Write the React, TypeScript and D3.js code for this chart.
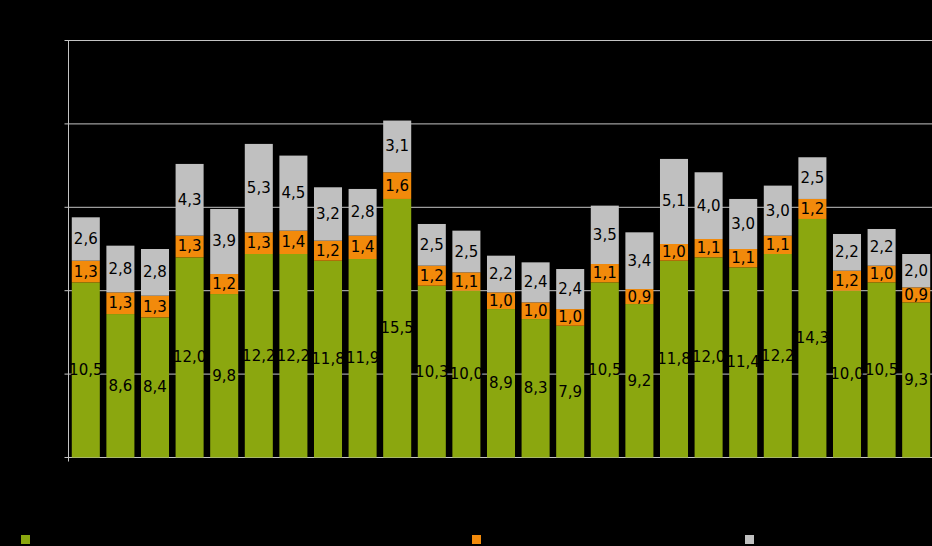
import React from "react";
import * as d3 from "d3";

const categories = ["1","2","3","4","5","6","7","8","9","10","11","12","13","14","15","16","17","18","19","20","21","22","23","24","25"];
const seriesNames = ["Serie 1", "Serie 2", "Serie 3"];
const greenValues = [10.5, 8.6, 8.4, 12.0, 9.8, 12.2, 12.2, 11.8, 11.9, 15.5, 10.3, 10.0, 8.9, 8.3, 7.9, 10.5, 9.2, 11.8, 12.0, 11.4, 12.2, 14.3, 10.0, 10.5, 9.3];
const orangeValues = [1.3, 1.3, 1.3, 1.3, 1.2, 1.3, 1.4, 1.2, 1.4, 1.6, 1.2, 1.1, 1.0, 1.0, 1.0, 1.1, 0.9, 1.0, 1.1, 1.1, 1.1, 1.2, 1.2, 1.0, 0.9];
const grayValues = [2.6, 2.8, 2.8, 4.3, 3.9, 5.3, 4.5, 3.2, 2.8, 3.1, 2.5, 2.5, 2.2, 2.4, 2.4, 3.5, 3.4, 5.1, 4.0, 3.0, 3.0, 2.5, 2.2, 2.2, 2.0];
const yTicks = [0, 5, 10, 15, 20, 25];

const colors = ["#8ba70f", "#f28a0b", "#c0c0c0"];
const W = 932, H = 546;
const left = 68.5, top = 40.5, bottom = 457.5;

export default function App() {
  const x = d3.scaleBand<string>().domain(categories).range([left, left + 25 * 34.6]).paddingInner(0.19).paddingOuter(0.095);
  const y = d3.scaleLinear().domain([0, 25]).range([bottom, top]);
  const table = categories.map((c, i) => ({ c, g: greenValues[i], o: orangeValues[i], s: grayValues[i] }));
  const stack = d3.stack<any>().keys(["g", "o", "s"])(table);
  const fmt = (v: number) => v.toFixed(1).replace(".", ",");
  const legendX = [21, 472, 745];
  return (
    <svg width={W} height={H} style={{ position: "absolute", left: 0, top: 0, display: "block" }} fontFamily="DejaVu Sans, Verdana, sans-serif">
      <rect x={0} y={0} width={W} height={H} fill="#000" />
      {yTicks.map((t) => (
        <g key={t}>
          <line x1={left - 4} x2={W} y1={y(t)} y2={y(t)} stroke="#c4c4c4" strokeWidth={1} />
          <text x={left - 8} y={y(t)} fill="#000" fontSize={13} textAnchor="end" dominantBaseline="central">{t}</text>
        </g>
      ))}
      <line x1={left} x2={left} y1={top} y2={bottom + 4} stroke="#c4c4c4" strokeWidth={1} />
      {stack.map((layer, li) => (
        <g key={li} fill={colors[li]}>
          {layer.map((d, i) => (
            <rect key={i} x={x(categories[i])} width={x.bandwidth()} y={y(d[1])} height={y(d[0]) - y(d[1])} />
          ))}
        </g>
      ))}
      {stack.map((layer, li) => (
        <g key={"l" + li} fill="#000" fontSize={15} textAnchor="middle">
          {layer.map((d, i) => (
            <text key={i} x={(x(categories[i]) as number) + x.bandwidth() / 2} y={y((d[0] + d[1]) / 2)} dominantBaseline="central">
              {fmt(d[1] - d[0])}
            </text>
          ))}
        </g>
      ))}
      {categories.map((c) => (
        <text key={c} x={(x(c) as number) + x.bandwidth() / 2} y={bottom + 16} fill="#000" fontSize={13} textAnchor="middle">{c}</text>
      ))}
      {seriesNames.map((n, i) => (
        <g key={n}>
          <rect x={legendX[i]} y={535} width={9} height={9} fill={colors[i]} />
          <text x={legendX[i] + 14} y={540} fill="#000" fontSize={13} dominantBaseline="central">{n}</text>
        </g>
      ))}
    </svg>
  );
}
